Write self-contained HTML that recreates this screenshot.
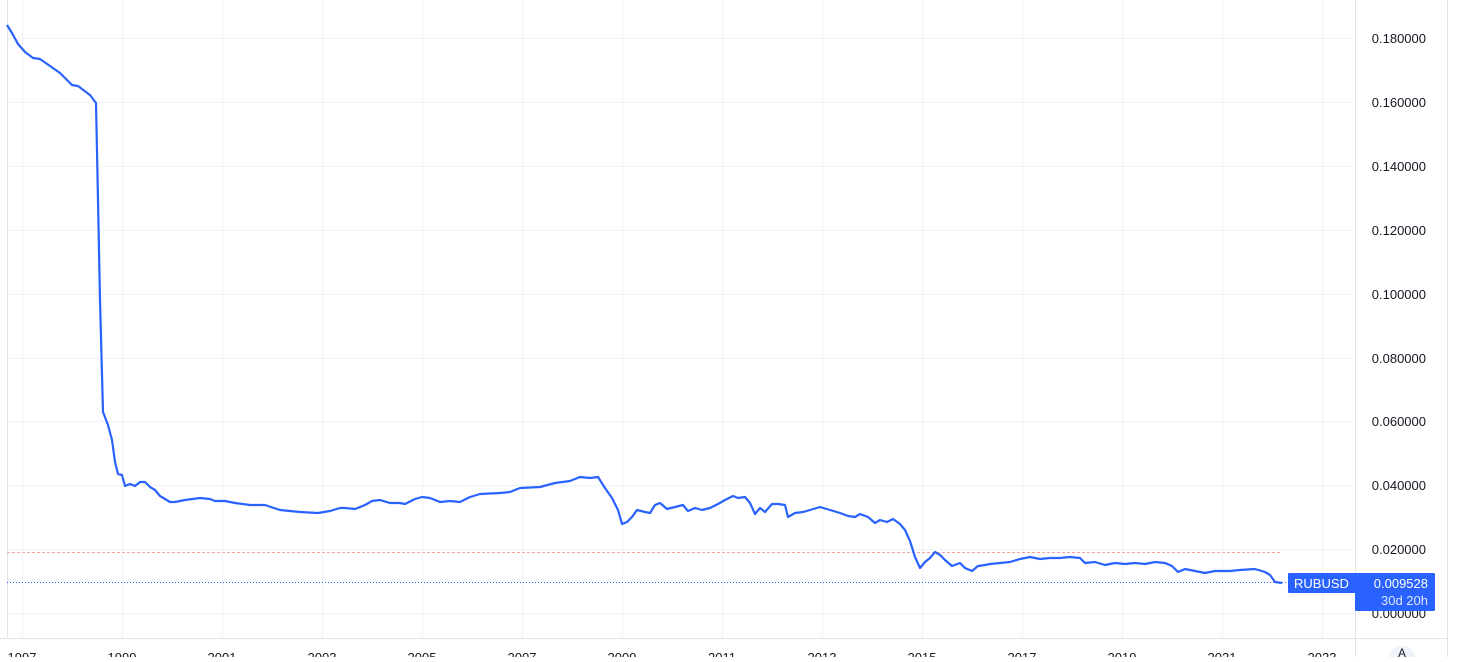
<!DOCTYPE html>
<html><head><style>
html,body{margin:0;padding:0;background:#fff;}
svg text{font-family:"Liberation Sans",sans-serif;}
</style></head><body>
<svg width="1460" height="657" xmlns="http://www.w3.org/2000/svg">
<rect width="1460" height="657" fill="#fff"/>
<g stroke="#f0f3fa" stroke-width="1">
<line x1="22.5" y1="0" x2="22.5" y2="638"/><line x1="122.5" y1="0" x2="122.5" y2="638"/><line x1="222.5" y1="0" x2="222.5" y2="638"/><line x1="322.5" y1="0" x2="322.5" y2="638"/><line x1="422.5" y1="0" x2="422.5" y2="638"/><line x1="522.5" y1="0" x2="522.5" y2="638"/><line x1="622.5" y1="0" x2="622.5" y2="638"/><line x1="722.5" y1="0" x2="722.5" y2="638"/><line x1="822.5" y1="0" x2="822.5" y2="638"/><line x1="922.5" y1="0" x2="922.5" y2="638"/><line x1="1022.5" y1="0" x2="1022.5" y2="638"/><line x1="1122.5" y1="0" x2="1122.5" y2="638"/><line x1="1222.5" y1="0" x2="1222.5" y2="638"/><line x1="1322.5" y1="0" x2="1322.5" y2="638"/>
<line x1="7" y1="38.5" x2="1355" y2="38.5"/><line x1="7" y1="102.5" x2="1355" y2="102.5"/><line x1="7" y1="166.5" x2="1355" y2="166.5"/><line x1="7" y1="230.5" x2="1355" y2="230.5"/><line x1="7" y1="294.5" x2="1355" y2="294.5"/><line x1="7" y1="358.5" x2="1355" y2="358.5"/><line x1="7" y1="421.5" x2="1355" y2="421.5"/><line x1="7" y1="485.5" x2="1355" y2="485.5"/><line x1="7" y1="549.5" x2="1355" y2="549.5"/><line x1="7" y1="613.5" x2="1355" y2="613.5"/>
</g>
<g stroke="#e0e3eb" stroke-width="1">
<line x1="7.5" y1="0" x2="7.5" y2="638"/>
<line x1="1355.5" y1="0" x2="1355.5" y2="657"/>
<line x1="1447.5" y1="0" x2="1447.5" y2="657"/>
<line x1="0" y1="638.5" x2="1447" y2="638.5"/>
</g>
<line x1="7" y1="552.5" x2="1280" y2="552.5" stroke="#f7a1a1" stroke-width="1" stroke-dasharray="3,2"/>
<line x1="7" y1="582.5" x2="1290" y2="582.5" stroke="#2962ff" stroke-width="1" stroke-dasharray="1,2"/>
<polyline fill="none" stroke="#2962ff" stroke-width="2.2" stroke-linejoin="round" points="7,25 12,33 18,44 25,52 33,58 40,59 50,66 60,73 72,85 78,86 90,95 96,103 98,200 100,300 103,412 108,425 112,440 115,462 118,474 122,475 125,486 130,484 135,486 140,482 145,482 150,487 155,490 160,496 170,502 175,502 185,500 200,498 210,499 215,501 225,501 235,503 250,505 265,505 280,510 300,512 318,513 330,511 340,508 345,508 355,509 365,505 372,501 380,500 390,503 400,503 405,504 415,499 422,497 430,498 440,502 450,501 460,502 470,497 480,494 500,493 510,492 520,488 540,487 555,483 570,481 580,477 590,478 598,477 605,488 612,498 618,510 622,524 627,522 632,517 637,510 645,512 650,513 655,505 660,503 667,509 675,507 683,505 688,511 695,508 702,510 710,508 718,504 725,500 733,496 738,498 745,497 750,503 755,514 760,508 765,512 772,504 778,504 785,505 788,517 795,513 803,512 810,510 820,507 830,510 840,513 848,516 855,517 860,514 868,517 875,523 880,520 887,522 893,519 900,524 905,530 910,541 915,557 920,568 925,562 930,558 935,552 940,555 945,560 952,566 960,563 965,568 972,571 978,566 985,565 990,564 1000,563 1010,562 1020,559 1030,557 1040,559 1050,558 1060,558 1070,557 1080,558 1085,563 1095,562 1105,565 1115,563 1125,564 1135,563 1145,564 1155,562 1165,563 1172,566 1178,572 1185,569 1195,571 1205,573 1215,571 1230,571 1240,570 1255,569 1265,572 1270,575 1275,582 1282,583"/>
<g font-size="13" fill="#131722" text-anchor="end">
<text x="1426" y="43">0.180000</text><text x="1426" y="107">0.160000</text><text x="1426" y="171">0.140000</text><text x="1426" y="235">0.120000</text><text x="1426" y="299">0.100000</text><text x="1426" y="363">0.080000</text><text x="1426" y="426">0.060000</text><text x="1426" y="490">0.040000</text><text x="1426" y="554">0.020000</text><text x="1426" y="618">0.000000</text>
</g>
<g font-size="13" fill="#131722" text-anchor="middle">
<text x="22" y="662">1997</text><text x="122" y="662">1999</text><text x="222" y="662">2001</text><text x="322" y="662">2003</text><text x="422" y="662">2005</text><text x="522" y="662">2007</text><text x="622" y="662">2009</text><text x="722" y="662">2011</text><text x="822" y="662">2013</text><text x="922" y="662">2015</text><text x="1022" y="662">2017</text><text x="1122" y="662">2019</text><text x="1222" y="662">2021</text><text x="1322" y="662">2023</text>
</g>
<rect x="1288" y="573" width="68" height="20" fill="#2962ff" rx="1"/>
<rect x="1355" y="573" width="80" height="38" fill="#2962ff" rx="1"/>
<text x="1294" y="588" font-size="13" fill="#fff">RUBUSD</text>
<text x="1428" y="588" font-size="13" fill="#fff" text-anchor="end">0.009528</text>
<text x="1428" y="605" font-size="13" fill="#dbe4ff" text-anchor="end">30d 20h</text>
<circle cx="1402" cy="660" r="14" fill="#f0f3fa"/>
<text x="1402" y="657" font-size="12" fill="#131722" text-anchor="middle">A</text>
</svg>
</body></html>
